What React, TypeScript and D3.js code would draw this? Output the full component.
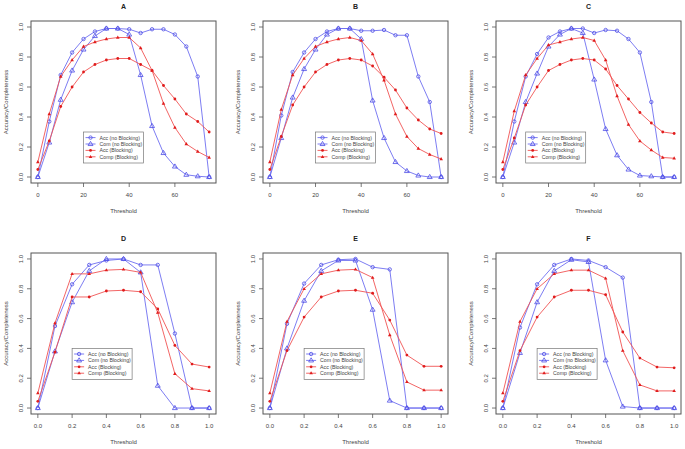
import React from "react";
import * as d3 from "d3";

const thresholdsTop = [0, 5, 10, 15, 20, 25, 30, 35, 40, 45, 50, 55, 60, 65, 70, 75];
const thresholdsBottom = [0, 0.1, 0.2, 0.3, 0.4, 0.5, 0.6, 0.7, 0.8, 0.9, 1.0];
const xTicksTop = [0, 20, 40, 60];
const xTicksBottom = [0, 0.2, 0.4, 0.6, 0.8, 1.0];
const yTicks = [0, 0.2, 0.4, 0.6, 0.8, 1.0];
const seriesNames = ["Acc (no Blocking)", "Com (no Blocking)", "Acc (Blocking)", "Comp (Blocking)"];
const panelTitles = ["A", "B", "C", "D", "E", "F"];

// Panel A
const aAccNo = [0, 0.37, 0.68, 0.83, 0.92, 0.97, 0.99, 0.99, 0.985, 0.96, 0.985, 0.985, 0.95, 0.87, 0.67, 0];
const aComNo = [0, 0.23, 0.515, 0.71, 0.85, 0.94, 0.99, 0.99, 0.95, 0.68, 0.34, 0.16, 0.07, 0.015, 0.005, 0];
const aAccBl = [0.05, 0.24, 0.47, 0.6, 0.7, 0.75, 0.78, 0.79, 0.79, 0.75, 0.71, 0.61, 0.52, 0.42, 0.37, 0.3];
const aCompBl = [0.1, 0.42, 0.67, 0.78, 0.87, 0.9, 0.92, 0.93, 0.93, 0.86, 0.71, 0.49, 0.33, 0.22, 0.17, 0.13];
// Panel B
const bAccNo = [0, 0.41, 0.7, 0.83, 0.92, 0.97, 0.99, 0.99, 0.975, 0.975, 0.98, 0.945, 0.945, 0.67, 0.5, 0];
const bComNo = [0, 0.26, 0.53, 0.72, 0.85, 0.95, 0.99, 0.99, 0.92, 0.51, 0.26, 0.1, 0.04, 0.01, 0, 0];
const bAccBl = [0.05, 0.27, 0.48, 0.6, 0.7, 0.75, 0.78, 0.79, 0.78, 0.74, 0.665, 0.58, 0.46, 0.38, 0.32, 0.29];
const bCompBl = [0.1, 0.45, 0.68, 0.79, 0.87, 0.9, 0.92, 0.93, 0.91, 0.82, 0.645, 0.42, 0.27, 0.19, 0.15, 0.12];
// Panel C
const cAccNo = [0, 0.37, 0.67, 0.82, 0.93, 0.97, 0.99, 0.99, 0.96, 0.98, 0.975, 0.92, 0.83, 0.5, 0, 0];
const cComNo = [0, 0.23, 0.5, 0.69, 0.87, 0.95, 0.99, 0.96, 0.65, 0.32, 0.145, 0.05, 0.01, 0.005, 0, 0];
const cAccBl = [0.05, 0.26, 0.48, 0.6, 0.71, 0.75, 0.78, 0.79, 0.78, 0.72, 0.61, 0.52, 0.43, 0.36, 0.3, 0.29];
const cCompBl = [0.1, 0.44, 0.68, 0.79, 0.88, 0.9, 0.92, 0.93, 0.91, 0.78, 0.54, 0.35, 0.24, 0.18, 0.13, 0.125];
// Panel D
const dAccNo = [0, 0.55, 0.83, 0.96, 0.99, 1.0, 0.96, 0.96, 0.5, 0, 0];
const dComNo = [0, 0.38, 0.71, 0.92, 1.0, 1.0, 0.91, 0.15, 0, 0, 0];
const dAccBl = [0.045, 0.375, 0.745, 0.745, 0.785, 0.79, 0.78, 0.665, 0.42, 0.295, 0.275];
const dCompBl = [0.1, 0.57, 0.9, 0.9, 0.925, 0.93, 0.91, 0.64, 0.23, 0.13, 0.115];
// Panel E
const eAccNo = [0, 0.565, 0.835, 0.96, 0.995, 1.0, 0.945, 0.93, 0, 0, 0];
const eComNo = [0, 0.4, 0.72, 0.92, 0.99, 0.99, 0.66, 0.05, 0, 0, 0];
const eAccBl = [0.045, 0.385, 0.61, 0.745, 0.785, 0.79, 0.77, 0.59, 0.355, 0.28, 0.28];
const eCompBl = [0.1, 0.58, 0.8, 0.9, 0.925, 0.93, 0.875, 0.49, 0.175, 0.12, 0.12];
// Panel F
const fAccNo = [0, 0.54, 0.83, 0.96, 1.0, 0.99, 0.945, 0.875, 0, 0, 0];
const fComNo = [0, 0.37, 0.71, 0.92, 0.995, 0.98, 0.32, 0.01, 0, 0, 0];
const fAccBl = [0.045, 0.385, 0.61, 0.745, 0.79, 0.79, 0.76, 0.51, 0.335, 0.275, 0.27];
const fCompBl = [0.1, 0.58, 0.8, 0.9, 0.925, 0.925, 0.87, 0.385, 0.155, 0.115, 0.115];

const BLUE_LINE = "#6e6ef0";
const BLUE_MARK = "#4c4ce6";
const RED_LINE = "#f05454";
const RED_MARK = "#e01c1c";
const AXIS = "#555";
const TEXT = "#444";
const FONT = "'Liberation Sans', Arial, sans-serif";

type Panel = {
  title: string;
  xs: number[];
  series: number[][];
  xTicks: number[];
  xMax: number;
  left: number;
  top: number;
  height: number;
  legendX: number;
  legendY: number;
  fmt: (v: number) => string;
};

const colLefts = [31, 263, 496];
const PW = 185;

const panels: Panel[] = [
  { title: panelTitles[0], xs: thresholdsTop, series: [aAccNo, aComNo, aAccBl, aCompBl], xTicks: xTicksTop, xMax: 75, left: colLefts[0], top: 21, height: 162, legendX: 20, legendY: 0.3, fmt: (v) => String(v) },
  { title: panelTitles[1], xs: thresholdsTop, series: [bAccNo, bComNo, bAccBl, bCompBl], xTicks: xTicksTop, xMax: 75, left: colLefts[1], top: 21, height: 162, legendX: 20, legendY: 0.3, fmt: (v) => String(v) },
  { title: panelTitles[2], xs: thresholdsTop, series: [cAccNo, cComNo, cAccBl, cCompBl], xTicks: xTicksTop, xMax: 75, left: colLefts[2], top: 21, height: 162, legendX: 10, legendY: 0.3, fmt: (v) => String(v) },
  { title: panelTitles[3], xs: thresholdsBottom, series: [dAccNo, dComNo, dAccBl, dCompBl], xTicks: xTicksBottom, xMax: 1, left: colLefts[0], top: 253, height: 161, legendX: 0.2, legendY: 0.4, fmt: (v) => v.toFixed(1) },
  { title: panelTitles[4], xs: thresholdsBottom, series: [eAccNo, eComNo, eAccBl, eCompBl], xTicks: xTicksBottom, xMax: 1, left: colLefts[1], top: 253, height: 161, legendX: 0.2, legendY: 0.4, fmt: (v) => v.toFixed(1) },
  { title: panelTitles[5], xs: thresholdsBottom, series: [fAccNo, fComNo, fAccBl, fCompBl], xTicks: xTicksBottom, xMax: 1, left: colLefts[2], top: 253, height: 161, legendX: 0.2, legendY: 0.4, fmt: (v) => v.toFixed(1) },
];

const lineColors = [BLUE_LINE, BLUE_LINE, RED_LINE, RED_LINE];

function Marker({ kind, x, y }: { kind: number; x: number; y: number }) {
  if (kind === 0) {
    return <circle cx={x} cy={y} r={1.7} fill="none" stroke={BLUE_MARK} strokeWidth={0.8} />;
  }
  if (kind === 1) {
    const s = 2.6;
    return (
      <path
        d={`M${x},${y - s} L${x + s * 0.95},${y + s * 0.6} L${x - s * 0.95},${y + s * 0.6} Z`}
        fill="none"
        stroke={BLUE_MARK}
        strokeWidth={0.8}
      />
    );
  }
  if (kind === 2) {
    return <circle cx={x} cy={y} r={1.4} fill={RED_MARK} />;
  }
  const s = 1.9;
  return (
    <path
      d={`M${x},${y - s} L${x + s * 0.95},${y + s * 0.6} L${x - s * 0.95},${y + s * 0.6} Z`}
      fill={RED_MARK}
    />
  );
}

function PanelView({ p }: { p: Panel }) {
  const pad = p.xMax * 0.04;
  const x = d3.scaleLinear().domain([-pad, p.xMax + pad]).range([p.left, p.left + PW]);
  const y = d3.scaleLinear().domain([-0.04, 1.04]).range([p.top + p.height, p.top]);
  const bottom = p.top + p.height;
  const line = d3
    .line<[number, number]>()
    .x((d) => x(d[0]))
    .y((d) => y(d[1]));
  const lx = x(p.legendX);
  const ly = y(p.legendY);
  const cx = p.left + PW / 2;
  const cy = p.top + p.height / 2;
  return (
    <g>
      <text x={cx} y={p.top - 15} textAnchor="middle" dominantBaseline="central" fontSize={7} fontWeight="bold" fill="#222">
        {p.title}
      </text>
      <rect x={p.left} y={p.top} width={PW} height={p.height} fill="none" stroke={AXIS} strokeWidth={1} />
      {p.xTicks.map((t) => (
        <g key={"x" + t}>
          <line x1={x(t)} x2={x(t)} y1={bottom} y2={bottom + 4} stroke={AXIS} strokeWidth={0.8} />
          <text x={x(t)} y={bottom + 12} textAnchor="middle" dominantBaseline="central" fontSize={6} fill={TEXT}>
            {p.fmt(t)}
          </text>
        </g>
      ))}
      {yTicks.map((t) => (
        <g key={"y" + t}>
          <line x1={p.left - 4} x2={p.left} y1={y(t)} y2={y(t)} stroke={AXIS} strokeWidth={0.8} />
          <text
            transform={`translate(${p.left - 10},${y(t)}) rotate(-90)`}
            textAnchor="middle"
            dominantBaseline="central"
            fontSize={6}
            fill={TEXT}
          >
            {t.toFixed(1)}
          </text>
        </g>
      ))}
      <text x={cx} y={bottom + 28} textAnchor="middle" dominantBaseline="central" fontSize={6} fill={TEXT}>
        Threshold
      </text>
      <text
        transform={`translate(${p.left - 25.5},${cy}) rotate(-90)`}
        textAnchor="middle"
        dominantBaseline="central"
        fontSize={6}
        fill={TEXT}
      >
        Accuracy/Completeness
      </text>
      {p.series.map((s, si) => {
        const pts: [number, number][] = s.map((v, i) => [p.xs[i], v]);
        return (
          <g key={"s" + si}>
            <path d={line(pts) || ""} fill="none" stroke={lineColors[si]} strokeWidth={0.9} />
            {pts.map((d, i) => (
              <Marker key={i} kind={si} x={x(d[0])} y={y(d[1])} />
            ))}
          </g>
        );
      })}
      <g>
        <rect x={lx} y={ly} width={60} height={31} fill="#fff" stroke="#777" strokeWidth={0.7} />
        {seriesNames.map((n, i) => {
          const ry = ly + 5.6 + i * 6.4;
          return (
            <g key={n}>
              <line x1={lx + 2} x2={lx + 12} y1={ry} y2={ry} stroke={lineColors[i]} strokeWidth={0.9} />
              <Marker kind={i} x={lx + 7} y={ry} />
              <text x={lx + 16} y={ry} dominantBaseline="central" fontSize={5.2} fill={TEXT}>
                {n}
              </text>
            </g>
          );
        })}
      </g>
    </g>
  );
}

export default function App() {
  return (
    <svg
      width={685}
      height={449}
      style={{ position: "absolute", left: 0, top: 0, background: "#fff", fontFamily: FONT }}
    >
      <rect width={685} height={449} fill="#fff" />
      {panels.map((p) => (
        <PanelView key={p.title} p={p} />
      ))}
    </svg>
  );
}
